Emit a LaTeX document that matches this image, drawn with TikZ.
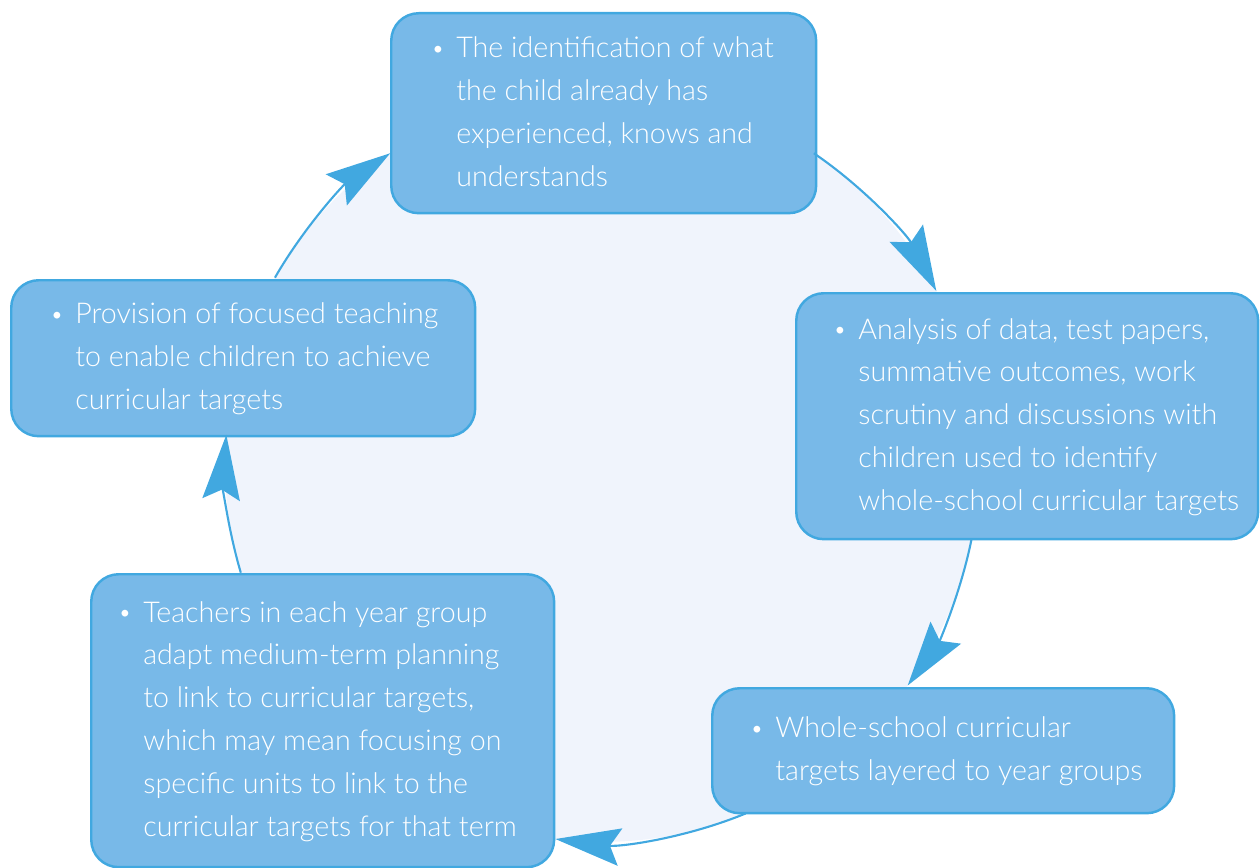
\documentclass[tikz,border=0pt]{standalone}
\usepackage{fontspec}
\setmainfont{Lato Light}
\usetikzlibrary{arrows.meta}

\definecolor{boxfill}{HTML}{78B9E8}
\definecolor{boxline}{HTML}{41A8E0}
\definecolor{ringfill}{HTML}{F0F4FC}

\newcommand{\bitem}[1]{\makebox[0.5cm][l]{\raisebox{0.05em}{\scalebox{0.8}{\textbullet}}}\begin{tabular}[t]{@{}l@{}}#1\end{tabular}}

\begin{document}
\begin{tikzpicture}[x=0.02cm,y=0.02cm,
    stage/.style={draw=boxline,line width=1.4pt,fill=boxfill,rounded corners=0.55cm,anchor=north west,inner sep=0pt},
    words/.style={anchor=west,inner sep=0pt,text=white,font=\fontsize{16.3}{24.4}\selectfont},
    flow/.style={draw=boxline,line width=1.2pt,-{Stealth[length=1.3cm,width=0.75cm,inset=0.2cm]}}]
        \useasboundingbox (0,0) rectangle (1260,-868);
        \coordinate (ctr) at (602,-465);
        \fill[ringfill] (ctr) circle[radius=7.54cm];

        % the five stages
        \node[stage,minimum width=8.5cm,minimum height=4cm](ident) at (390,-12){};
        \node[stage,minimum width=9.24cm,minimum height=4.92cm](anal) at (795,-292){};
        \node[stage,minimum width=9.24cm,minimum height=2.5cm](layer) at (711,-687){};
        \node[stage,minimum width=9.26cm,minimum height=5.86cm](adapt) at (90,-573){};
        \node[stage,minimum width=9.28cm,minimum height=3.12cm](prov) at (10,-279){};

        \node[words](identtxt) at ([xshift=0.82cm]ident.west){\bitem{The identification of what\\the child already has\\experienced, knows and\\understands}};
        \node[words](analtxt) at ([xshift=0.76cm]anal.west){\bitem{Analysis of data, test papers,\\summative outcomes, work\\scrutiny and discussions with\\children used to identify\\whole-school curricular targets}};
        \node[words](layertxt) at ([xshift=0.78cm]layer.west){\bitem{Whole-school curricular\\targets layered to year groups}};
        \node[words](adapttxt) at ([xshift=0.56cm]adapt.west){\bitem{Teachers in each year group\\adapt medium-term planning\\to link to curricular targets,\\which may mean focusing on\\specific units to link to the\\curricular targets for that term}};
        \node[words](provtxt) at ([xshift=0.8cm]prov.west){\bitem{Provision of focused teaching\\to enable children to achieve\\curricular targets}};

        % arcs of the cycle
        \coordinate (s1) at ([shift={(150.2:7.54cm)}]ctr);
        \coordinate (s2) at ([shift={(55.8:7.54cm)}]ctr);
        \coordinate (s3) at ([shift={(-11.2:7.54cm)}]ctr);
        \coordinate (s4) at ([shift={(-67.6:7.54cm)}]ctr);
        \coordinate (s5) at ([shift={(196.6:7.54cm)}]ctr);
        \draw[flow](s1) arc[start angle=150.2,end angle=124.2,radius=7.54cm];
        \draw[flow](s2) arc[start angle=55.8,end angle=27.5,radius=7.54cm];
        \draw[flow](s3) arc[start angle=-11.2,end angle=-35.8,radius=7.54cm];
        \draw[flow](s4) arc[start angle=-67.6,end angle=-97.1,radius=7.54cm];
        \draw[flow](s5) arc[start angle=196.6,end angle=175.4,radius=7.54cm];
\end{tikzpicture}
\end{document}
